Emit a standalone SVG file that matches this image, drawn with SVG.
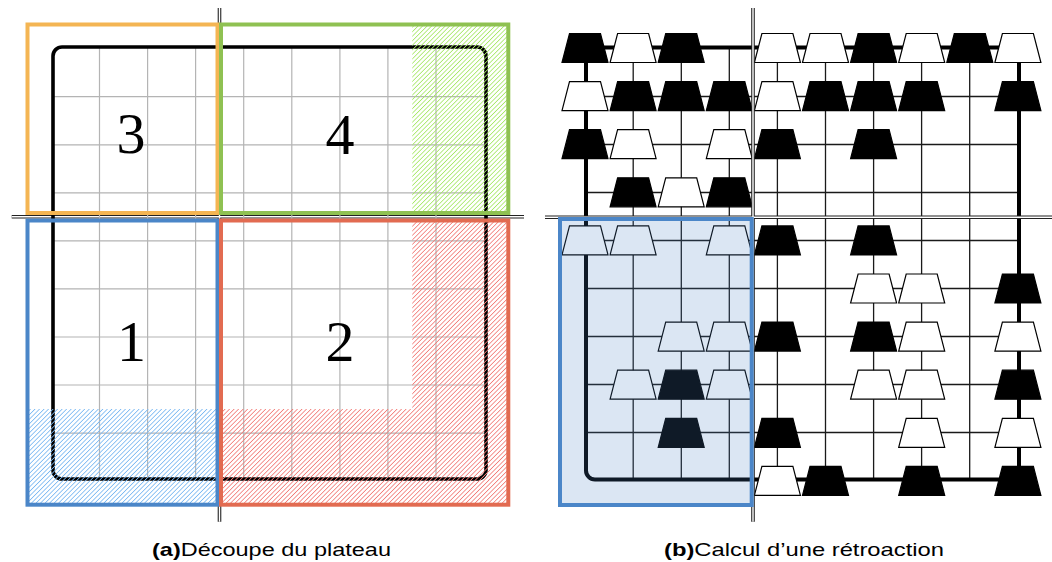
<svg xmlns="http://www.w3.org/2000/svg" xmlns:xlink="http://www.w3.org/1999/xlink" width="1052" height="562" viewBox="0 0 1052 562">
<defs>
<style>
.gl{stroke:#b4b4b4;stroke-width:1.2;fill:none}
.gr{stroke:#1a1a1a;stroke-width:1.3;fill:none}
.bd{stroke:#000;stroke-width:3.6;fill:none}
.axo{stroke:#222;stroke-width:3.6;fill:none}
.axi{stroke:#fff;stroke-width:1.4;fill:none}
.zone{fill:none;stroke-width:4}
.dig{font-family:"Liberation Serif","DejaVu Serif",serif;font-size:58px;text-anchor:middle;fill:#000}
.cap{font-family:"Liberation Sans","DejaVu Sans",sans-serif;font-size:19px;fill:#000}
.pb{fill:#000;stroke:#000;stroke-width:1.2}
.pw{fill:#fff;stroke:#000;stroke-width:1.2}
</style>
<pattern id="hg" patternUnits="userSpaceOnUse" width="3.2" height="3.2" patternTransform="rotate(45)"><rect x="0" y="0" width="0.8" height="3.2" fill="#a6e866"/></pattern>
<pattern id="hr" patternUnits="userSpaceOnUse" width="3.2" height="3.2" patternTransform="rotate(45)"><rect x="0" y="0" width="0.8" height="3.2" fill="#f27c78"/></pattern>
<pattern id="hb" patternUnits="userSpaceOnUse" width="3.2" height="3.2" patternTransform="rotate(45)"><rect x="0" y="0" width="0.8" height="3.2" fill="#7ab8f2"/></pattern>
<path id="pc" d="M-15.5,-14.5 H15.5 L23,14.5 H-23 Z"/>
</defs>

<g id="panel-a">
<g id="axes-a">
<path class="axo" d="M219.5,8 V521.7 M11.7,216.7 H524"/>
<path class="axi" d="M219.5,8 V521.7 M11.7,216.7 H524"/>
</g>
<g id="grid-a">
<path class="gl" d="M99.5,47 V479 M147.6,47 V479 M195.6,47 V479 M243.7,47 V479 M291.8,47 V479 M339.9,47 V479 M387.9,47 V479 M436,47 V479"/>
<path class="gl" d="M53,96.7 H486 M53,144.8 H486 M53,192.8 H486 M53,240.9 H486 M53,288.9 H486 M53,337 H486 M53,385 H486 M53,433.1 H486"/>
</g>
<rect id="board-a" class="bd" x="53" y="47" width="433" height="432" rx="9"/>
<g id="hatches">
<rect x="412.3" y="24.5" width="96" height="188.5" fill="url(#hg)"/>
<path d="M412.3,220.5 H508.3 V504.7 H221 V409 H412.3 Z" fill="url(#hr)"/>
<rect x="27.5" y="409" width="190" height="95.7" fill="url(#hb)"/>
</g>
<g id="zone-3"><rect class="zone" stroke="#f4b553" x="27.5" y="24.5" width="190" height="188.5"/><text class="dig" x="131" y="153">3</text></g>
<g id="zone-4"><rect class="zone" stroke="#8fc152" x="221" y="24.5" width="287.3" height="188.5"/><text class="dig" x="340" y="154">4</text></g>
<g id="zone-1"><rect class="zone" stroke="#4b86c8" x="27.5" y="220.5" width="190" height="284.2"/><text class="dig" x="131.5" y="361">1</text></g>
<g id="zone-2"><rect class="zone" stroke="#e26b51" x="221" y="220.5" width="287.3" height="284.2"/><text class="dig" x="340" y="361">2</text></g>
<text id="caption-a" class="cap" x="152" y="556" textLength="239" lengthAdjust="spacingAndGlyphs"><tspan font-weight="bold">(a)</tspan>Découpe du plateau</text>
</g>

<g id="panel-b">
<g id="grid-b">
<path class="gr" d="M633.2,47.5 V479.5 M681.3,47.5 V479.5 M729.3,47.5 V479.5 M777.4,47.5 V479.5 M825.5,47.5 V479.5 M873.6,47.5 V479.5 M921.6,47.5 V479.5 M969.7,47.5 V479.5"/>
<path class="gr" d="M586,96.5 H1019 M586,144.5 H1019 M586,192.5 H1019 M586,240.5 H1019 M586,288.5 H1019 M586,336.5 H1019 M586,384.5 H1019 M586,432.5 H1019"/>
</g>
<rect id="board-b" class="bd" style="stroke-width:4" x="586" y="47.5" width="433" height="432" rx="9"/>
<g id="pieces">
<use href="#pc" class="pb" x="585" y="48"/>
<use href="#pc" class="pw" x="633.1" y="48"/>
<use href="#pc" class="pb" x="681.2" y="48"/>
<use href="#pc" class="pw" x="777.4" y="48"/>
<use href="#pc" class="pw" x="825.5" y="48"/>
<use href="#pc" class="pb" x="873.6" y="48"/>
<use href="#pc" class="pw" x="921.7" y="48"/>
<use href="#pc" class="pb" x="969.8" y="48"/>
<use href="#pc" class="pw" x="1017.9" y="48"/>
<use href="#pc" class="pw" x="585" y="96.1"/>
<use href="#pc" class="pb" x="633.1" y="96.1"/>
<use href="#pc" class="pb" x="681.2" y="96.1"/>
<use href="#pc" class="pb" x="729.3" y="96.1"/>
<use href="#pc" class="pw" x="777.4" y="96.1"/>
<use href="#pc" class="pb" x="825.5" y="96.1"/>
<use href="#pc" class="pb" x="873.6" y="96.1"/>
<use href="#pc" class="pb" x="921.7" y="96.1"/>
<use href="#pc" class="pb" x="1017.9" y="96.1"/>
<use href="#pc" class="pb" x="585" y="144.2"/>
<use href="#pc" class="pw" x="633.1" y="144.2"/>
<use href="#pc" class="pw" x="729.3" y="144.2"/>
<use href="#pc" class="pb" x="777.4" y="144.2"/>
<use href="#pc" class="pb" x="873.6" y="144.2"/>
<use href="#pc" class="pb" x="633.1" y="192.3"/>
<use href="#pc" class="pw" x="681.2" y="192.3"/>
<use href="#pc" class="pb" x="729.3" y="192.3"/>
<use href="#pc" class="pw" x="585" y="240.4"/>
<use href="#pc" class="pw" x="633.1" y="240.4"/>
<use href="#pc" class="pw" x="729.3" y="240.4"/>
<use href="#pc" class="pb" x="777.4" y="240.4"/>
<use href="#pc" class="pb" x="873.6" y="240.4"/>
<use href="#pc" class="pw" x="873.6" y="288.5"/>
<use href="#pc" class="pw" x="921.7" y="288.5"/>
<use href="#pc" class="pb" x="1017.9" y="288.5"/>
<use href="#pc" class="pw" x="681.2" y="336.6"/>
<use href="#pc" class="pw" x="729.3" y="336.6"/>
<use href="#pc" class="pb" x="777.4" y="336.6"/>
<use href="#pc" class="pb" x="873.6" y="336.6"/>
<use href="#pc" class="pw" x="921.7" y="336.6"/>
<use href="#pc" class="pw" x="1017.9" y="336.6"/>
<use href="#pc" class="pw" x="633.1" y="384.7"/>
<use href="#pc" class="pb" x="681.2" y="384.7"/>
<use href="#pc" class="pw" x="729.3" y="384.7"/>
<use href="#pc" class="pw" x="873.6" y="384.7"/>
<use href="#pc" class="pw" x="921.7" y="384.7"/>
<use href="#pc" class="pb" x="1017.9" y="384.7"/>
<use href="#pc" class="pb" x="681.2" y="432.8"/>
<use href="#pc" class="pb" x="777.4" y="432.8"/>
<use href="#pc" class="pw" x="921.7" y="432.8"/>
<use href="#pc" class="pw" x="1017.9" y="432.8"/>
<use href="#pc" class="pw" x="777.4" y="480.9"/>
<use href="#pc" class="pb" x="825.5" y="480.9"/>
<use href="#pc" class="pb" x="921.7" y="480.9"/>
<use href="#pc" class="pb" x="1017.9" y="480.9"/>
</g>
<g id="axes-b">
<path class="axo" d="M753,8 V521.7 M545,217.3 H1052"/>
<path class="axi" d="M753,8 V521.7 M545,217.3 H1052"/>
</g>
<rect id="feedback-zone" x="560" y="219" width="191.7" height="286" fill="#4a80c4" fill-opacity="0.2" stroke="#4b86c8" stroke-width="4"/>
<text id="caption-b" class="cap" x="664" y="556" textLength="280" lengthAdjust="spacingAndGlyphs"><tspan font-weight="bold">(b)</tspan>Calcul d’une rétroaction</text>
</g>
</svg>
